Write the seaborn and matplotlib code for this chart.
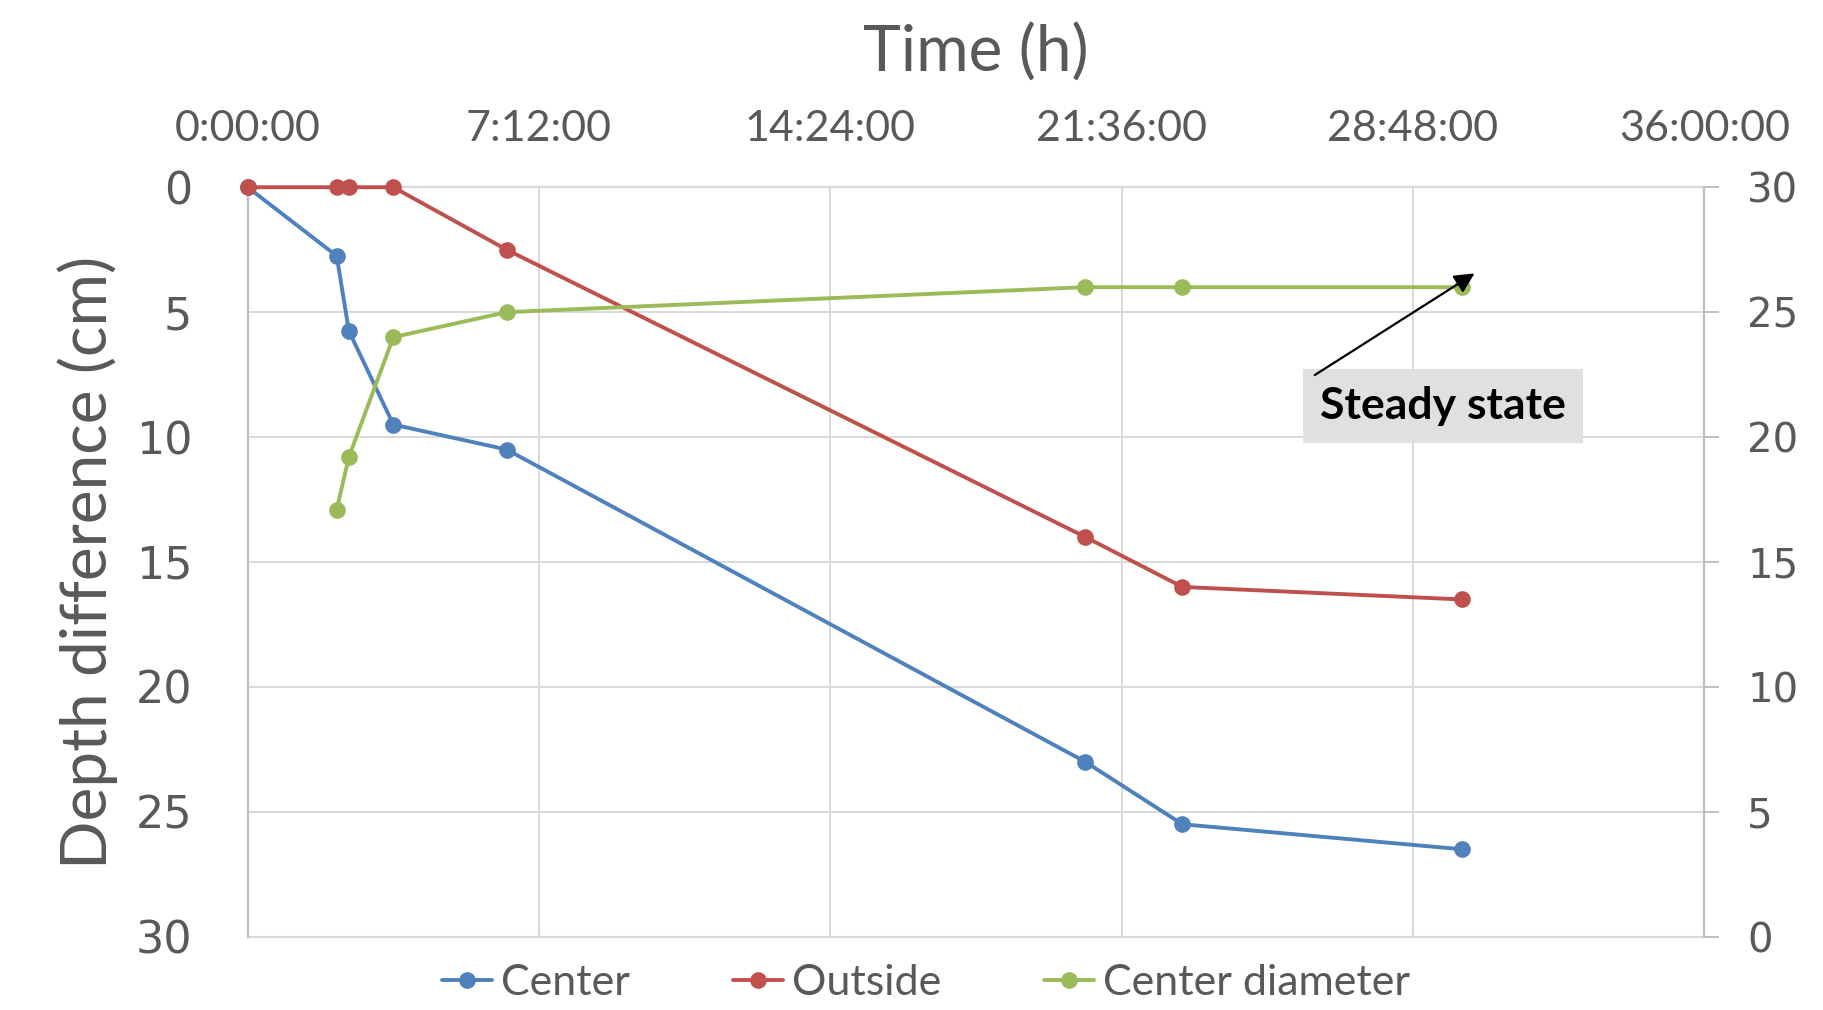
import numpy as np
import pandas as pd
import matplotlib
matplotlib.use("Agg")
import matplotlib.pyplot as plt
from matplotlib.ticker import FuncFormatter, FixedLocator
import seaborn as sns

# Elapsed time of each measurement (hours)
time_h = [0.0, 2.2, 2.5, 3.6, 6.4, 20.7, 23.1, 30.0]
# Depth difference (cm), left axis (inverted)
center = [0.0, 2.75, 5.75, 9.5, 10.5, 23.0, 25.5, 26.5]
outside = [0.0, 0.0, 0.0, 0.0, 2.5, 14.0, 16.0, 16.5]
# Center diameter (cm), right axis
center_diameter = [np.nan, 17.1, 19.2, 24.0, 25.0, 26.0, 26.0, 26.0]

series_names = ["Center", "Outside", "Center diameter"]
series_colors = ["#4F81BD", "#C0504D", "#9BBB59"]
x_ticks = [0, 7.2, 14.4, 21.6, 28.8, 36.0]
y_ticks = [0, 5, 10, 15, 20, 25, 30]

sns.set_theme(style="white")
plt.rcParams["font.family"] = ["Lato", "DejaVu Sans"]

TXT = "#595959"
GRID = "#D9D9D9"
AXIS = "#BFBFBF"

fig = plt.figure(figsize=(18.24, 10.10), dpi=100)
ax = fig.add_axes([0.1358, 0.0726, 0.9344 - 0.1358, 0.8146 - 0.0726])
ax2 = ax.twinx()

df = pd.DataFrame({"time": time_h, "Center": center, "Outside": outside,
                   "Center diameter": center_diameter})

line_kw = dict(marker="o", markersize=12, linewidth=2.8, markeredgewidth=0,
               clip_on=False, zorder=4)
sns.lineplot(data=df, x="time", y="Center", ax=ax, color=series_colors[0],
             label=series_names[0], legend=False, **line_kw)
sns.lineplot(data=df, x="time", y="Outside", ax=ax, color=series_colors[1],
             label=series_names[1], legend=False, **line_kw)
sns.lineplot(data=df.dropna(), x="time", y="Center diameter", ax=ax2,
             color=series_colors[2], label=series_names[2], legend=False, **line_kw)

# Left axis: depth, inverted
ax.set_xlim(0, 36)
ax.set_ylim(30, 0)
ax.yaxis.set_major_locator(FixedLocator(y_ticks))
ax.xaxis.set_major_locator(FixedLocator(x_ticks))


def hms(x, pos):
    h = int(x)
    m = int(round((x - h) * 60))
    return f"{h}:{m:02d}:00"


ax.xaxis.set_major_formatter(FuncFormatter(hms))
ax.xaxis.tick_top()
ax.xaxis.set_label_position("top")
ax.tick_params(axis="x", which="both", top=False, bottom=False, length=0,
               pad=28, labelsize=31, labelcolor=TXT)
ax.tick_params(axis="y", left=False, length=0, pad=40, labelcolor=TXT)
for lbl in ax.get_yticklabels():
    lbl.set_fontfamily("DejaVu Sans")
    lbl.set_fontsize(32)

ax.grid(True, color=GRID, linewidth=1.4)
for side in ["top", "bottom"]:
    ax.spines[side].set_visible(False)
ax.spines["left"].set_color(AXIS)
ax.spines["left"].set_linewidth(1.6)
ax.spines["right"].set_visible(False)

ax.set_xlabel("Time (h)", fontsize=46, color=TXT)
ax.xaxis.label.set_va("center")
ax.xaxis.set_label_coords(0.5, 1.179)
ax.set_ylabel("Depth difference (cm)", fontsize=46, color=TXT)
ax.yaxis.label.set_va("center")
ax.yaxis.set_label_coords(-0.1096, 0.5)

# Right axis: diameter
ax2.set_ylim(0, 30)
ax2.yaxis.set_major_locator(FixedLocator(y_ticks))
ax2.tick_params(axis="y", right=True, direction="out", length=10.8, width=1.4,
                color=AXIS, pad=20, labelcolor=TXT)
for lbl in ax2.get_yticklabels():
    lbl.set_fontfamily("DejaVu Sans")
    lbl.set_fontsize(29)
ax2.set_ylabel("")
ax2.grid(False)
for side in ["top", "bottom", "left"]:
    ax2.spines[side].set_visible(False)
ax2.spines["right"].set_visible(True)
ax2.spines["right"].set_color(AXIS)
ax2.spines["right"].set_linewidth(1.6)

# Boundary gridlines drawn over full width
for yv in (0, 30):
    ax.axhline(yv, color=GRID, linewidth=1.6, zorder=0.5, clip_on=False)

# "Steady state" callout
ax.text(29.54, 8.76, "Steady state", fontsize=32, fontweight="bold",
        color="black", ha="center", va="center", zorder=5,
        bbox=dict(boxstyle="square,pad=0.38", facecolor="#E0E0E0",
                  edgecolor="none"))
ax2.annotate("", xy=(30.32, 26.55), xytext=(26.37, 22.48),
             arrowprops=dict(arrowstyle="-|>", color="black", lw=1.6,
                             mutation_scale=30, shrinkA=0, shrinkB=0),
             zorder=6)

handles = ax.get_lines()[:2] + ax2.get_lines()[:1]
leg = fig.legend(handles, series_names, loc="center",
                 bbox_to_anchor=(0.5077, 0.027), ncol=3, frameon=False,
                 fontsize=31, handlelength=1.16, handletextpad=0.2,
                 columnspacing=2.4, borderaxespad=0)
for t in leg.get_texts():
    t.set_color(TXT)

fig.savefig("out.png", dpi=100, facecolor="white")
